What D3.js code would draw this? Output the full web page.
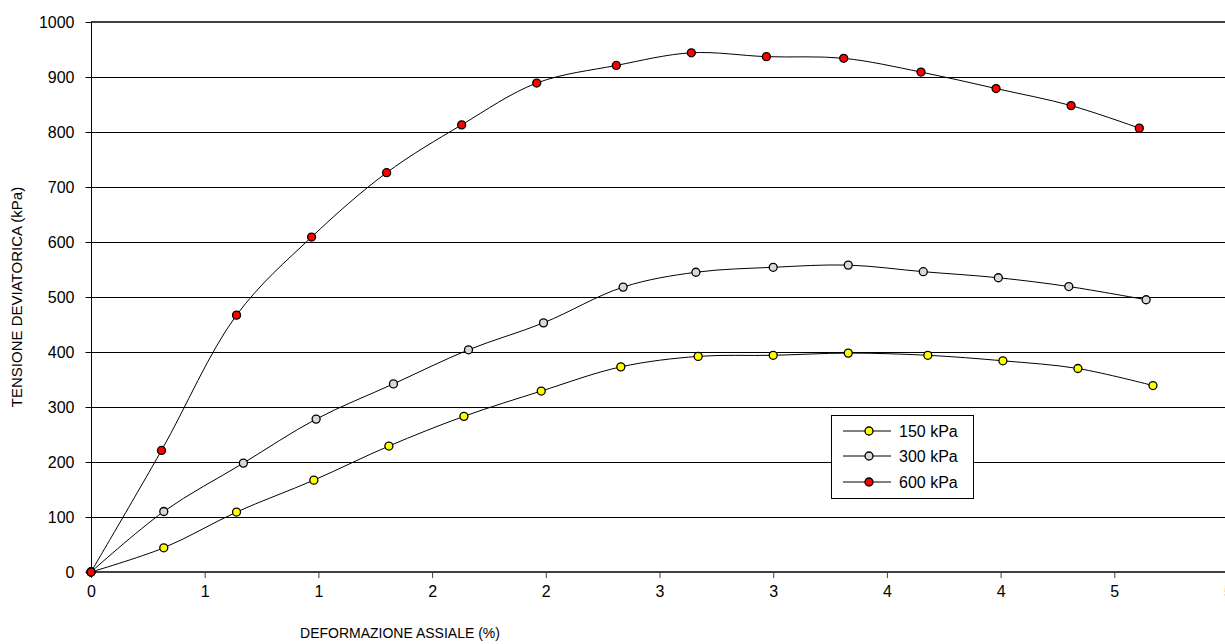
<!DOCTYPE html>
<html>
<head>
<meta charset="utf-8">
<script src="https://cdn.jsdelivr.net/npm/d3@7"></script>
<style>
  html, body { margin: 0; padding: 0; background: #fff; }
  svg { display: block; font-family: "Liberation Sans", Arial, sans-serif; }
</style>
</head>
<body>
<svg id="chart" width="1225" height="644"></svg>
<script>
// ---- data ----
const xTicks = [0, 0.5, 1, 1.5, 2, 2.5, 3, 3.5, 4, 4.5, 5];
const xTickLabels = ["0", "1", "1", "2", "2", "3", "3", "4", "4", "5", "5"];
const yTicks = [0, 100, 200, 300, 400, 500, 600, 700, 800, 900, 1000];

const seriesNames = ["150 kPa", "300 kPa", "600 kPa"];
const seriesColors = ["#ffff00", "#d9d9d9", "#ff0000"];

const strain150 = [0, 0.32, 0.64, 0.98, 1.31, 1.64, 1.98, 2.33, 2.67, 3.00, 3.33, 3.68, 4.01, 4.34, 4.67];
const stress150 = [0, 44, 109, 167, 229, 283, 329, 373, 392, 394, 398, 394, 384, 370, 339];

const strain300 = [0, 0.32, 0.67, 0.99, 1.33, 1.66, 1.99, 2.34, 2.66, 3.00, 3.33, 3.66, 3.99, 4.30, 4.64];
const stress300 = [0, 110, 198, 278, 342, 404, 453, 518, 545, 554, 558, 546, 535, 519, 495];

const strain600 = [0, 0.31, 0.64, 0.97, 1.30, 1.63, 1.96, 2.31, 2.64, 2.97, 3.31, 3.65, 3.98, 4.31, 4.61];
const stress600 = [0, 221, 467, 609, 726, 813, 889, 921, 944, 937, 934, 909, 879, 848, 807];

const xTitle = "DEFORMAZIONE ASSIALE (%)";
const yTitle = "TENSIONE DEVIATORICA (kPa)";

// ---- build ----
const series = [
  { name: seriesNames[0], color: seriesColors[0], pts: strain150.map((v, i) => ({ x: v, y: stress150[i] })) },
  { name: seriesNames[1], color: seriesColors[1], pts: strain300.map((v, i) => ({ x: v, y: stress300[i] })) },
  { name: seriesNames[2], color: seriesColors[2], pts: strain600.map((v, i) => ({ x: v, y: stress600[i] })) }
];

const svg = d3.select("#chart");
const pLeft = 91, pRight = 1228, pTop = 22, pBottom = 572;
const fontFam = "Liberation Sans, Arial, sans-serif";

const xs = d3.scaleLinear().domain([0, 5]).range([pLeft, pRight]);
const ys = d3.scaleLinear().domain([0, 1000]).range([pBottom, pTop]);

// gridlines
svg.append("g")
  .selectAll("line")
  .data(yTicks.filter(v => v > 0 && v < 1000))
  .join("line")
  .attr("x1", pLeft).attr("x2", 1225)
  .attr("y1", d => Math.round(ys(d)) + 0.5).attr("y2", d => Math.round(ys(d)) + 0.5)
  .attr("stroke", "#000").attr("stroke-width", 1);

// top border of plot area
svg.append("line")
  .attr("x1", pLeft).attr("x2", 1225)
  .attr("y1", ys(1000)).attr("y2", ys(1000))
  .attr("stroke", "#404040").attr("stroke-width", 2);

// y axis
const yAxis = d3.axisLeft(ys).tickValues(yTicks).tickSize(6).tickPadding(11).tickFormat(d3.format("d"));
const gy = svg.append("g").attr("transform", `translate(${pLeft + 0.5},0)`).call(yAxis);
gy.select(".domain").attr("stroke", "#000").attr("d", `M0,${pTop}V${pBottom}`);
gy.selectAll(".tick line").attr("stroke", "#000");
gy.selectAll(".tick text").attr("font-size", 16).attr("fill", "#000").attr("font-family", fontFam);

// x axis
const xAxis = d3.axisBottom(xs).tickValues(xTicks).tickSize(6).tickPadding(8)
  .tickFormat((d, i) => xTickLabels[i]);
const gx = svg.append("g").attr("transform", `translate(0,${pBottom})`).call(xAxis);
gx.select(".domain").attr("stroke", "#404040").attr("stroke-width", 2).attr("d", `M${pLeft},0H1225`);
gx.selectAll(".tick line").attr("stroke", "#404040");
gx.selectAll(".tick text").attr("font-size", 16).attr("fill", "#000").attr("font-family", fontFam);

// lines
const line = d3.line().x(d => xs(d.x)).y(d => ys(d.y)).curve(d3.curveCatmullRom.alpha(0.5));
svg.append("g").selectAll("path")
  .data(series)
  .join("path")
  .attr("d", d => line(d.pts))
  .attr("fill", "none").attr("stroke", "#000").attr("stroke-width", 1);

// markers
series.forEach(s => {
  svg.append("g").selectAll("circle")
    .data(s.pts)
    .join("circle")
    .attr("cx", d => xs(d.x)).attr("cy", d => ys(d.y))
    .attr("r", 4)
    .attr("fill", s.color).attr("stroke", "#000").attr("stroke-width", 1.3);
});

// axis titles
svg.append("text")
  .attr("x", 400).attr("y", 638)
  .attr("text-anchor", "middle").attr("font-size", 14).attr("fill", "#000")
  .text(xTitle);
svg.append("text")
  .attr("transform", `translate(22,${(pTop + pBottom) / 2}) rotate(-90)`)
  .attr("text-anchor", "middle").attr("font-size", 15).attr("fill", "#000")
  .text(yTitle);

// legend
const lg = svg.append("g");
lg.append("rect")
  .attr("x", 831.5).attr("y", 415.5).attr("width", 142).attr("height", 83)
  .attr("fill", "#fff").attr("stroke", "#000").attr("stroke-width", 1);
const rowsY = [431, 456, 482];
series.forEach((s, i) => {
  lg.append("line").attr("x1", 843).attr("x2", 891)
    .attr("y1", rowsY[i]).attr("y2", rowsY[i]).attr("stroke", "#000").attr("stroke-width", 1);
  lg.append("circle").attr("cx", 869).attr("cy", rowsY[i]).attr("r", 4)
    .attr("fill", s.color).attr("stroke", "#000").attr("stroke-width", 1.3);
  lg.append("text").attr("x", 899).attr("y", rowsY[i]).attr("dy", "0.35em")
    .attr("font-size", 16).attr("fill", "#000").text(s.name);
});
</script>
</body>
</html>
